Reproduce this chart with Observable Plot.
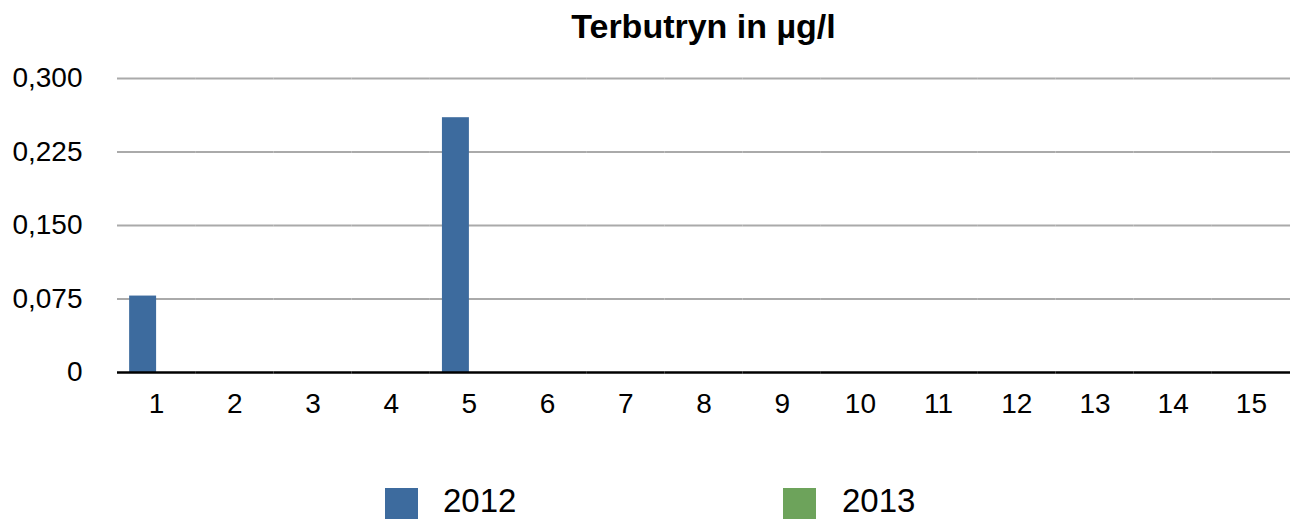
<!DOCTYPE html>
<html>
<head>
<meta charset="utf-8">
<script src="https://cdn.jsdelivr.net/npm/d3@7"></script>
<script src="https://cdn.jsdelivr.net/npm/@observablehq/plot@0.6"></script>
<style>
  html, body { margin: 0; padding: 0; background: #fff; }
  #wrap { position: relative; width: 1295px; height: 519px; overflow: hidden; font-family: "Liberation Sans", Arial, sans-serif; }
  #title { position: absolute; left: 117px; width: 1173px; top: 9px; text-align: center; font-weight: bold; font-size: 34px; line-height: 34px; color: #000; }
  #chart { position: absolute; left: 0; top: 0; }
  .lg { position: absolute; top: 489px; font-size: 33px; line-height: 24px; color: #000; }
  .sw { position: absolute; top: 488px; width: 33px; height: 31px; }
</style>
</head>
<body>
<div id="wrap">
  <div id="chart"></div>
  <div id="title">Terbutryn in µg/l</div>
  <div id="legend"></div>
</div>
<script>
const categories = ["1","2","3","4","5","6","7","8","9","10","11","12","13","14","15"];
const years = ["2012", "2013"];
const values2012 = [0.078, 0, 0, 0, 0.26, 0, 0, 0, 0, 0, 0, 0, 0, 0, 0];
const values2013 = [0, 0, 0, 0, 0, 0, 0, 0, 0, 0, 0, 0, 0, 0, 0];
const yTicks = [0, 0.075, 0.15, 0.225, 0.3];
const colors = ["#3d6b9e", "#6da35b"];

const data = [];
categories.forEach((c, i) => {
  data.push({cat: c, year: years[0], value: values2012[i]});
  data.push({cat: c, year: years[1], value: values2013[i]});
});

const fmt = d => d === 0 ? "0" : d.toFixed(3).replace(".", ",");

const chart = Plot.plot({
  width: 1295,
  height: 440,
  marginTop: 78,
  marginBottom: 68,
  marginLeft: 117,
  marginRight: 5,
  style: {fontFamily: "Liberation Sans, Arial, sans-serif", fontSize: "28px", color: "#000", background: "transparent"},
  fx: {domain: categories, padding: 0, round: false, label: null, tickSize: 0, tickPadding: 21, axis: "bottom"},
  x: {domain: years, paddingInner: 0, paddingOuter: 0.45, round: false, axis: null},
  y: {domain: [0, 0.3], ticks: yTicks, tickFormat: fmt, tickSize: 0, tickPadding: 35, label: null},
  color: {domain: years, range: colors},
  marks: [
    Plot.ruleY(yTicks.filter(d => d > 0), {stroke: "#aaaaaa", strokeWidth: 2}),
    Plot.barY(data, {fx: "cat", x: "year", y: "value", fill: "year"}),
    Plot.ruleY([0], {stroke: "#000", strokeWidth: 2.5})
  ]
});
document.getElementById("chart").appendChild(chart);

const legend = document.getElementById("legend");
const swLeft = [385, 783];
const txLeft = [443, 842];
years.forEach((y, i) => {
  const s = document.createElement("div");
  s.className = "sw";
  s.style.left = swLeft[i] + "px";
  s.style.background = colors[i];
  legend.appendChild(s);
  const t = document.createElement("div");
  t.className = "lg";
  t.style.left = txLeft[i] + "px";
  t.textContent = y;
  legend.appendChild(t);
});
</script>
</body>
</html>
